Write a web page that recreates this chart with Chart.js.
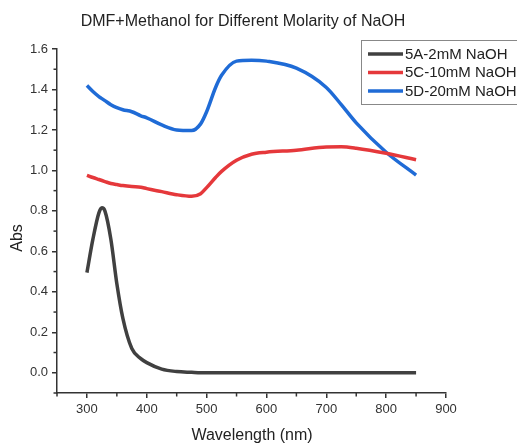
<!DOCTYPE html>
<html>
<head>
<meta charset="utf-8">
<script src="https://cdn.jsdelivr.net/npm/chart.js@4.4.0/dist/chart.umd.min.js"></script>
<style>
  html, body { margin: 0; padding: 0; background: #fff; }
</style>
</head>
<body>
<canvas id="myChart" width="517" height="446"></canvas>
<script>
const ctx = document.getElementById('myChart');
const FONT = '"Liberation Sans", Arial, sans-serif';

// wavelength (nm) shared by all three spectra
const wavelength = [300, 310, 320, 325, 330, 340, 350, 360, 375, 390, 400, 425, 450, 475, 490, 500, 515, 525, 550, 575, 600, 650, 700, 725, 750, 800, 850];

// absorbance
const abs5A = [0.495, 0.66, 0.79, 0.815, 0.80, 0.66, 0.44, 0.27, 0.12, 0.07, 0.05, 0.018, 0.006, 0.002, 0, 0, 0, 0, 0, 0, 0, 0, 0, 0, 0, 0, 0];
const abs5C = [0.976, 0.965, 0.955, 0.95, 0.945, 0.935, 0.93, 0.925, 0.92, 0.917, 0.91, 0.895, 0.88, 0.872, 0.885, 0.915, 0.965, 0.995, 1.05, 1.08, 1.09, 1.10, 1.116, 1.117, 1.11, 1.085, 1.053];
const abs5D = [1.42, 1.39, 1.365, 1.355, 1.345, 1.325, 1.31, 1.30, 1.29, 1.27, 1.26, 1.225, 1.20, 1.197, 1.23, 1.29, 1.41, 1.47, 1.54, 1.545, 1.54, 1.505, 1.41, 1.325, 1.235, 1.09, 0.977];

const seriesNames = ['5A-2mM NaOH', '5C-10mM NaOH', '5D-20mM NaOH'];
const seriesColors = ['#404040', '#e5383b', '#1f6bd6'];
const seriesValues = [abs5A, abs5C, abs5D];

const chartTitle = 'DMF+Methanol for Different Molarity of NaOH';
const xTitle = 'Wavelength (nm)';
const yTitle = 'Abs';

const isMajorX = (v) => v % 100 === 0 && v >= 300;
const isMajorY = (v) => Math.round(v * 10) % 2 === 0 && v > -0.05;

// minor ticks (shorter), plus titles and the boxed legend
const extras = {
    id: 'extras',
    afterDraw(chart) {
        const c = chart.ctx;
        const xs = chart.scales.x;
        const ys = chart.scales.y;
        const area = chart.chartArea;
        c.save();
        c.strokeStyle = '#333';
        c.lineWidth = 1.5;
        xs.ticks.forEach((t) => {
            if (isMajorX(t.value)) return;
            const px = xs.getPixelForValue(t.value);
            c.beginPath();
            c.moveTo(px, area.bottom);
            c.lineTo(px, area.bottom + 3.5);
            c.stroke();
        });
        ys.ticks.forEach((t) => {
            if (isMajorY(t.value)) return;
            const py = ys.getPixelForValue(t.value);
            c.beginPath();
            c.moveTo(area.left, py);
            c.lineTo(area.left - 3.5, py);
            c.stroke();
        });

        c.fillStyle = '#222';
        c.textAlign = 'center';
        c.textBaseline = 'middle';
        c.font = '16px ' + FONT;
        c.fillText(chartTitle, 243, 22);
        c.fillText(xTitle, 252, 436);
        c.save();
        c.translate(18, 238);
        c.rotate(-Math.PI / 2);
        c.fillText(yTitle, 0, 0);
        c.restore();

        // legend
        c.fillStyle = '#fff';
        c.fillRect(361, 40, 170, 65);
        c.strokeStyle = '#888';
        c.lineWidth = 1;
        c.strokeRect(361.5, 40.5, 170, 64);
        c.font = '15px ' + FONT;
        c.textAlign = 'left';
        chart.data.datasets.forEach((ds, i) => {
            const y = 54 + i * 18.5;
            c.strokeStyle = ds.borderColor;
            c.lineWidth = 3.5;
            c.beginPath();
            c.moveTo(368, y);
            c.lineTo(403, y);
            c.stroke();
            c.fillStyle = '#222';
            c.fillText(ds.label, 405, y + 0.5);
        });
        c.restore();
    },
};

const datasets = seriesNames.map((name, i) => ({
    label: name,
    data: wavelength.map((w, j) => ({ x: w, y: seriesValues[i][j] })),
    borderColor: seriesColors[i],
    borderWidth: 3.5,
    pointRadius: 0,
    cubicInterpolationMode: 'monotone',
    fill: false,
}));

new Chart(ctx, {
    type: 'line',
    data: { datasets: datasets },
    options: {
        responsive: false,
        animation: false,
        layout: { padding: { top: 49, right: 71, left: 0, bottom: 0 } },
        plugins: {
            legend: { display: false },
            title: { display: false },
            tooltip: { enabled: false },
        },
        scales: {
            x: {
                type: 'linear',
                min: 250,
                max: 900,
                afterFit: (scale) => { scale.height = 53; },
                border: { display: true, color: '#333', width: 1.5 },
                grid: {
                    drawOnChartArea: false,
                    tickLength: 5,
                    lineWidth: 1.5,
                    color: (c) => (c.tick && isMajorX(c.tick.value) ? '#333' : 'rgba(0,0,0,0)'),
                },
                ticks: {
                    stepSize: 50,
                    autoSkip: false,
                    maxRotation: 0,
                    padding: 4,
                    color: '#333',
                    font: { family: FONT, size: 13 },
                    callback: (v) => (isMajorX(v) ? String(v) : ''),
                },
            },
            y: {
                min: -0.1,
                max: 1.6,
                afterFit: (scale) => { scale.width = 57; },
                border: { display: true, color: '#333', width: 1.5 },
                grid: {
                    drawOnChartArea: false,
                    tickLength: 5,
                    lineWidth: 1.5,
                    color: (c) => (c.tick && isMajorY(c.tick.value) ? '#333' : 'rgba(0,0,0,0)'),
                },
                ticks: {
                    stepSize: 0.1,
                    autoSkip: false,
                    padding: 4,
                    color: '#333',
                    font: { family: FONT, size: 13 },
                    callback: (v) => (isMajorY(v) ? v.toFixed(1) : ''),
                },
            },
        },
    },
    plugins: [extras],
});
</script>
</body>
</html>
